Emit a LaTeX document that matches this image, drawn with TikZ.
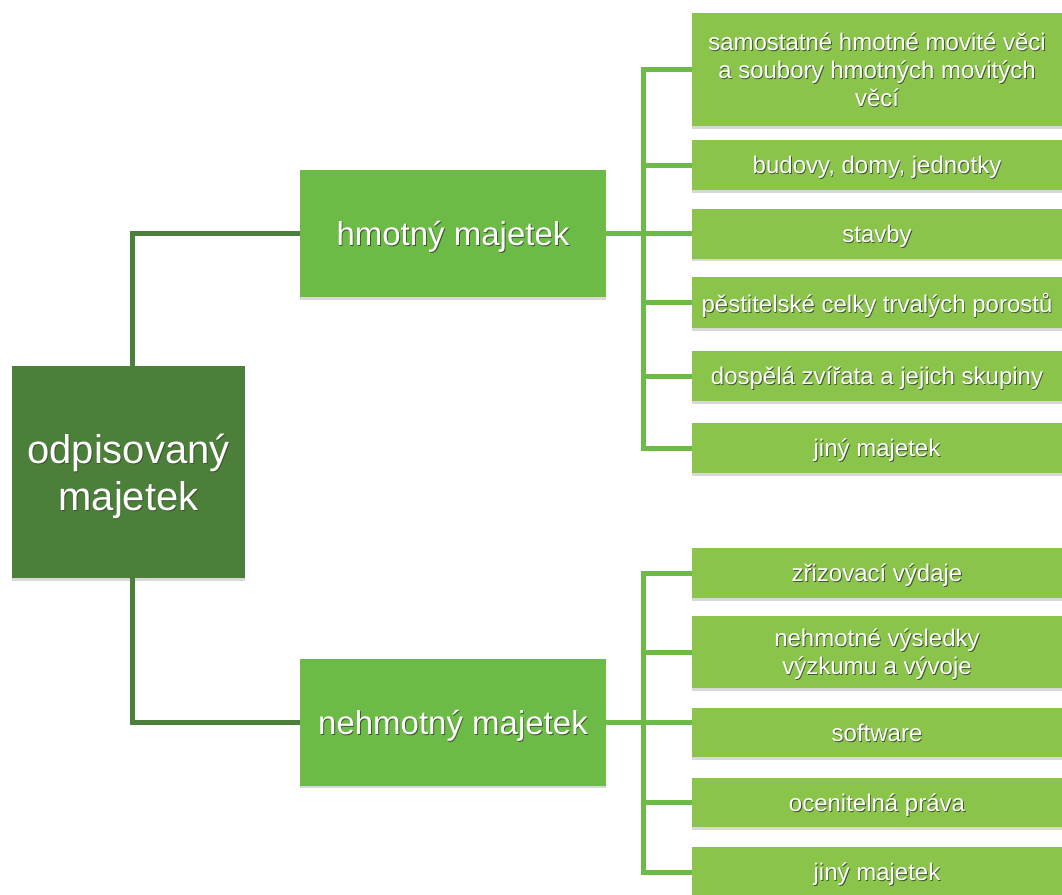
\documentclass[tikz,border=0pt]{standalone}
\usepackage{fontspec}
\setmainfont{Liberation Sans}
\usetikzlibrary{shadows}
\definecolor{rootc}{RGB}{75,127,58}
\definecolor{midc}{RGB}{107,187,70}
\definecolor{leafc}{RGB}{138,196,75}
\definecolor{tsh}{RGB}{62,84,44}
\newcommand\sht[1]{\leavevmode\rlap{\kern0.9pt\raisebox{-0.9pt}{\textcolor{tsh}{#1}}}#1}
\begin{document}
\begin{tikzpicture}[x=1pt,y=1pt,
  box/.style={rectangle, inner sep=0pt, text=white, align=center, text depth=0pt,
    drop shadow={shadow xshift=0pt, shadow yshift=-2.5pt, opacity=0.3}},
  leaf/.style={box, fill=leafc, minimum width=370pt, font=\fontsize{24}{28}\selectfont},
  mid/.style={box, fill=midc, minimum width=306pt, minimum height=127pt, font=\fontsize{33}{39}\selectfont},
  rootbox/.style={box, fill=rootc, minimum width=233pt, minimum height=212pt, font=\fontsize{40}{47}\selectfont},
  rootline/.style={draw=rootc, line width=5pt},
  leafline/.style={draw=midc, line width=5pt}]
\useasboundingbox (0,0) rectangle (1062,-894);
\fill[white] (0,0) rectangle (1062,-894);
\clip (0,0) rectangle (1062,-894);

% root and main branches
\node[rootbox] (root) at (128.5,-472) {\sht{odpisovaný}\\\sht{majetek}};
\node[mid] (hm) at (453,-233.5) {\sht{hmotný majetek}};
\node[mid] (nh) at (453,-722) {\sht{nehmotný majetek}};

% tangible leaves
\node[leaf, minimum height=113pt] (b1) at (877,-69.5) {\sht{samostatné hmotné movité věci}\\\sht{a soubory hmotných movitých}\\\sht{věcí}};
\node[leaf, minimum height=50pt] (b2) at (877,-165) {\sht{budovy, domy, jednotky}};
\node[leaf, minimum height=50pt] (b3) at (877,-233.5) {\sht{stavby}};
\node[leaf, minimum height=51pt] (b4) at (877,-302.5) {\sht{pěstitelské celky trvalých porostů}};
\node[leaf, minimum height=50pt] (b5) at (877,-376) {\sht{dospělá zvířata a jejich skupiny}};
\node[leaf, minimum height=50pt] (b6) at (877,-448) {\sht{jiný majetek}};

% intangible leaves
\node[leaf, minimum height=50pt] (c1) at (877,-573) {\sht{zřizovací výdaje}};
\node[leaf, minimum height=72pt] (c2) at (877,-652) {\sht{nehmotné výsledky}\\\sht{výzkumu a vývoje}};
\node[leaf, minimum height=49pt] (c3) at (877,-732.5) {\sht{software}};
\node[leaf, minimum height=49pt] (c4) at (877,-802.5) {\sht{ocenitelná práva}};
\node[leaf, minimum height=50pt] (c5) at (877,-872) {\sht{jiný majetek}};

% junctions of the brackets
\coordinate (jt) at (643,-233.5);
\coordinate (jb) at (643,-722);

% root connectors
\draw[rootline] ([xshift=3.5pt]root.north) |- (hm.west);
\draw[rootline] ([xshift=3.5pt]root.south) |- (nh.west);

% tangible bracket
\draw[leafline] (hm.east) -- (hm.east -| b3.west);
\draw[leafline] (b1.west) -| (jt |- b6.west) -- (b6.west);
\draw[leafline] (jt |- b2.west) -- (b2.west);
\draw[leafline] (jt |- b4.west) -- (b4.west);
\draw[leafline] (jt |- b5.west) -- (b5.west);

% intangible bracket
\draw[leafline] (nh.east) -- (nh.east -| c3.west);
\draw[leafline] (c1.west) -| (jb |- c5.west) -- (c5.west);
\draw[leafline] (jb |- c2.west) -- (c2.west);
\draw[leafline] (jb |- c4.west) -- (c4.west);
\end{tikzpicture}
\end{document}
